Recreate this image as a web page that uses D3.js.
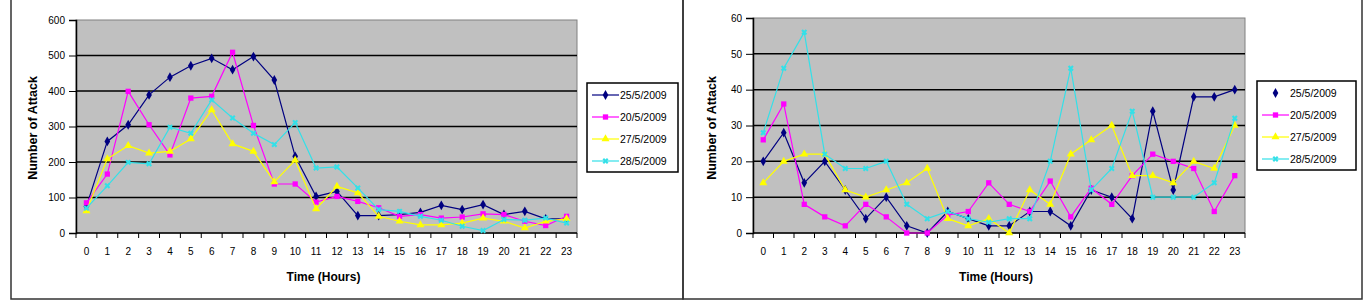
<!DOCTYPE html>
<html>
<head>
<meta charset="utf-8">
<script src="https://cdn.jsdelivr.net/npm/d3@7"></script>
<style>
  body { margin: 0; background: #fff; }
  svg { display: block; }
  text { font-family: "Liberation Sans", Arial, sans-serif; }
  .tick text { font-size: 10px; fill: #000; }
  .axis path, .axis line { stroke: #000; }
  .atitle { font-weight: bold; }
  .ltext { font-size: 10.5px; }
</style>
</head>
<body>
<script>
// hours on the category axis
var hours = d3.range(24).map(String);

// series names (left and right legends)
var namesLeft = ["25/5/2009", "20/5/2009", "27/5/2009", "28/5/2009"];
var namesRight = ["25/5/2009", "20/5/2009", "27/5/2009", "28/5/2009"];

// left chart: number of attacks per hour
var left25 = [75, 258, 305, 389, 439, 471, 492, 460, 497, 431, 216, 103, 117, 49, 49, 52, 58, 78, 66, 80, 52, 61, 40, 40];
var left20 = [85, 166, 399, 305, 220, 380, 385, 509, 303, 138, 138, 87, 103, 89, 71, 47, 52, 42, 45, 54, 52, 33, 21, 47];
var left27 = [62, 209, 246, 225, 230, 265, 347, 251, 230, 144, 205, 68, 131, 113, 47, 33, 23, 23, 28, 42, 33, 14, 33, 40];
var left28 = [70, 133, 199, 195, 298, 281, 375, 324, 281, 249, 311, 183, 186, 127, 66, 61, 47, 36, 19, 7, 38, 36, 42, 28];

// right chart: number of attacks per hour
var right25 = [20, 28, 14, 20, 12, 4, 10, 2, 0, 6, 4, 2, 2, 6, 6, 2, 12, 10, 4, 34, 12, 38, 38, 40];
var right20 = [26, 36, 8, 4.5, 2, 8, 4.5, 0, 0, 5, 6, 14, 8, 6, 14.5, 4.5, 12.5, 8, 16, 22, 20, 18, 6, 16];
var right27 = [14, 20, 22, 22, 12, 10, 12, 14, 18, 4, 2, 4, 0, 12, 8, 22, 26, 30, 16, 16, 14, 20, 18, 30];
var right28 = [28, 46, 56, 22, 18, 18, 20, 8, 4, 6, 4, 3, 4, 4, 20, 46, 12, 18, 34, 10, 10, 10, 14, 32];

var yTicksLeft = [0, 100, 200, 300, 400, 500, 600];
var yTicksRight = [0, 10, 20, 30, 40, 50, 60];

var colors = ["#000080", "#ff00ff", "#ffff00", "#33e0e8"];
var shapes = [d3.symbolDiamond, d3.symbolSquare, d3.symbolTriangle, d3.symbolCross];

var svg = d3.select("body").append("svg")
    .attr("width", 1367)
    .attr("height", 301);

// panel frames
svg.append("rect").attr("x", 11).attr("y", -2).attr("width", 672).attr("height", 301)
    .attr("fill", "none").attr("stroke", "#333").attr("stroke-width", 1.5);
svg.append("rect").attr("x", 683).attr("y", -2).attr("width", 679).attr("height", 301)
    .attr("fill", "none").attr("stroke", "#333").attr("stroke-width", 1.5);

function drawChart(opt) {
    var x = d3.scaleBand().domain(hours).range([opt.x0, opt.x1]);
    var y = d3.scaleLinear().domain([0, opt.ymax]).range([233, opt.y0]);

    // plot background
    svg.append("rect")
        .attr("x", opt.x0).attr("y", opt.y0)
        .attr("width", opt.x1 - opt.x0).attr("height", 233 - opt.y0)
        .attr("fill", "#c0c0c0").attr("stroke", "#808080");

    // gridlines
    svg.append("g").selectAll("line")
        .data(opt.ticks.slice(1, -1))
        .enter().append("line")
        .attr("x1", opt.x0).attr("x2", opt.x1)
        .attr("y1", function(d){ return y(d); })
        .attr("y2", function(d){ return y(d); })
        .attr("stroke", "#000").attr("stroke-width", 1.5);

    // y axis
    svg.append("g").attr("class", "axis")
        .attr("transform", "translate(" + opt.x0 + ",0)")
        .call(d3.axisLeft(y).tickValues(opt.ticks).tickSize(7).tickPadding(4))
        .call(function(g){ g.select(".domain").attr("stroke-width", 1.5); });

    // x axis, ticks at category edges
    var xa = svg.append("g").attr("class", "axis")
        .attr("transform", "translate(0,233)");
    xa.append("line").attr("x1", opt.x0).attr("x2", opt.x1)
        .attr("stroke", "#000").attr("stroke-width", 1.5);
    xa.selectAll(".edge")
        .data(hours.concat(["end"]))
        .enter().append("line")
        .attr("class", "edge")
        .attr("x1", function(d, i){ return opt.x0 + i * x.step(); })
        .attr("x2", function(d, i){ return opt.x0 + i * x.step(); })
        .attr("y1", 0).attr("y2", 5)
        .attr("stroke", "#000");
    xa.selectAll(".lab")
        .data(hours)
        .enter().append("text")
        .attr("class", "lab")
        .attr("x", function(d){ return x(d) + x.bandwidth() / 2; })
        .attr("y", 22)
        .attr("text-anchor", "middle")
        .style("font-size", "10px")
        .text(function(d){ return d; });

    // series
    var line = d3.line()
        .x(function(d, i){ return x(hours[i]) + x.bandwidth() / 2; })
        .y(function(d){ return y(d); });

    opt.series.forEach(function(s, k) {
        svg.append("path")
            .datum(s)
            .attr("d", line)
            .attr("fill", "none")
            .attr("stroke", colors[k])
            .attr("stroke-width", 1.2);
        svg.append("g").selectAll("path")
            .data(s)
            .enter().append("path")
            .attr("transform", function(d, i){
                return "translate(" + (x(hours[i]) + x.bandwidth() / 2) + "," + y(d) + ")" + (k == 3 ? " rotate(45)" : "");
            })
            .attr("d", d3.symbol().type(shapes[k]).size(k == 3 ? 22 : 28))
            .attr("fill", colors[k]);
    });

    // axis titles
    svg.append("text").attr("class", "atitle")
        .attr("x", (opt.x0 + opt.x1) / 2 - 3).attr("y", 281)
        .attr("text-anchor", "middle")
        .style("font-size", "12px")
        .text("Time (Hours)");
    svg.append("text").attr("class", "atitle")
        .attr("transform", "translate(" + opt.ytx + ",128) rotate(-90)")
        .attr("text-anchor", "middle")
        .style("font-size", "12.5px")
        .text("Number of Attack");

    // legend
    var lg = svg.append("g").attr("transform", "translate(" + opt.lx + "," + opt.ly + ")");
    lg.append("rect").attr("width", opt.lw).attr("height", 89)
        .attr("fill", "#fff").attr("stroke", "#000").attr("stroke-width", 1.5);
    opt.names.forEach(function(n, k) {
        var yy = 12 + k * 22;
        if (!(opt.noLine && k == 0)) {
            lg.append("line").attr("x1", 5).attr("x2", 32)
                .attr("y1", yy).attr("y2", yy)
                .attr("stroke", colors[k]).attr("stroke-width", 1.2);
        }
        lg.append("path")
            .attr("transform", "translate(18.5," + yy + ")" + (k == 3 ? " rotate(45)" : ""))
            .attr("d", d3.symbol().type(shapes[k]).size(k == 3 ? 22 : 28))
            .attr("fill", colors[k]);
        lg.append("text").attr("class", "ltext")
            .attr("x", 33).attr("y", yy + 4)
            .text(n);
    });
}

drawChart({
    x0: 76, x1: 577, y0: 20, ymax: 600, ticks: yTicksLeft, ytx: 37,
    series: [left25, left20, left27, left28], names: namesLeft,
    lx: 587, ly: 83, lw: 91, noLine: false
});

drawChart({
    x0: 753, x1: 1245, y0: 18, ymax: 60, ticks: yTicksRight, ytx: 716,
    series: [right25, right20, right27, right28], names: namesRight,
    lx: 1257, ly: 81, lw: 99, noLine: true
});
</script>
</body>
</html>
